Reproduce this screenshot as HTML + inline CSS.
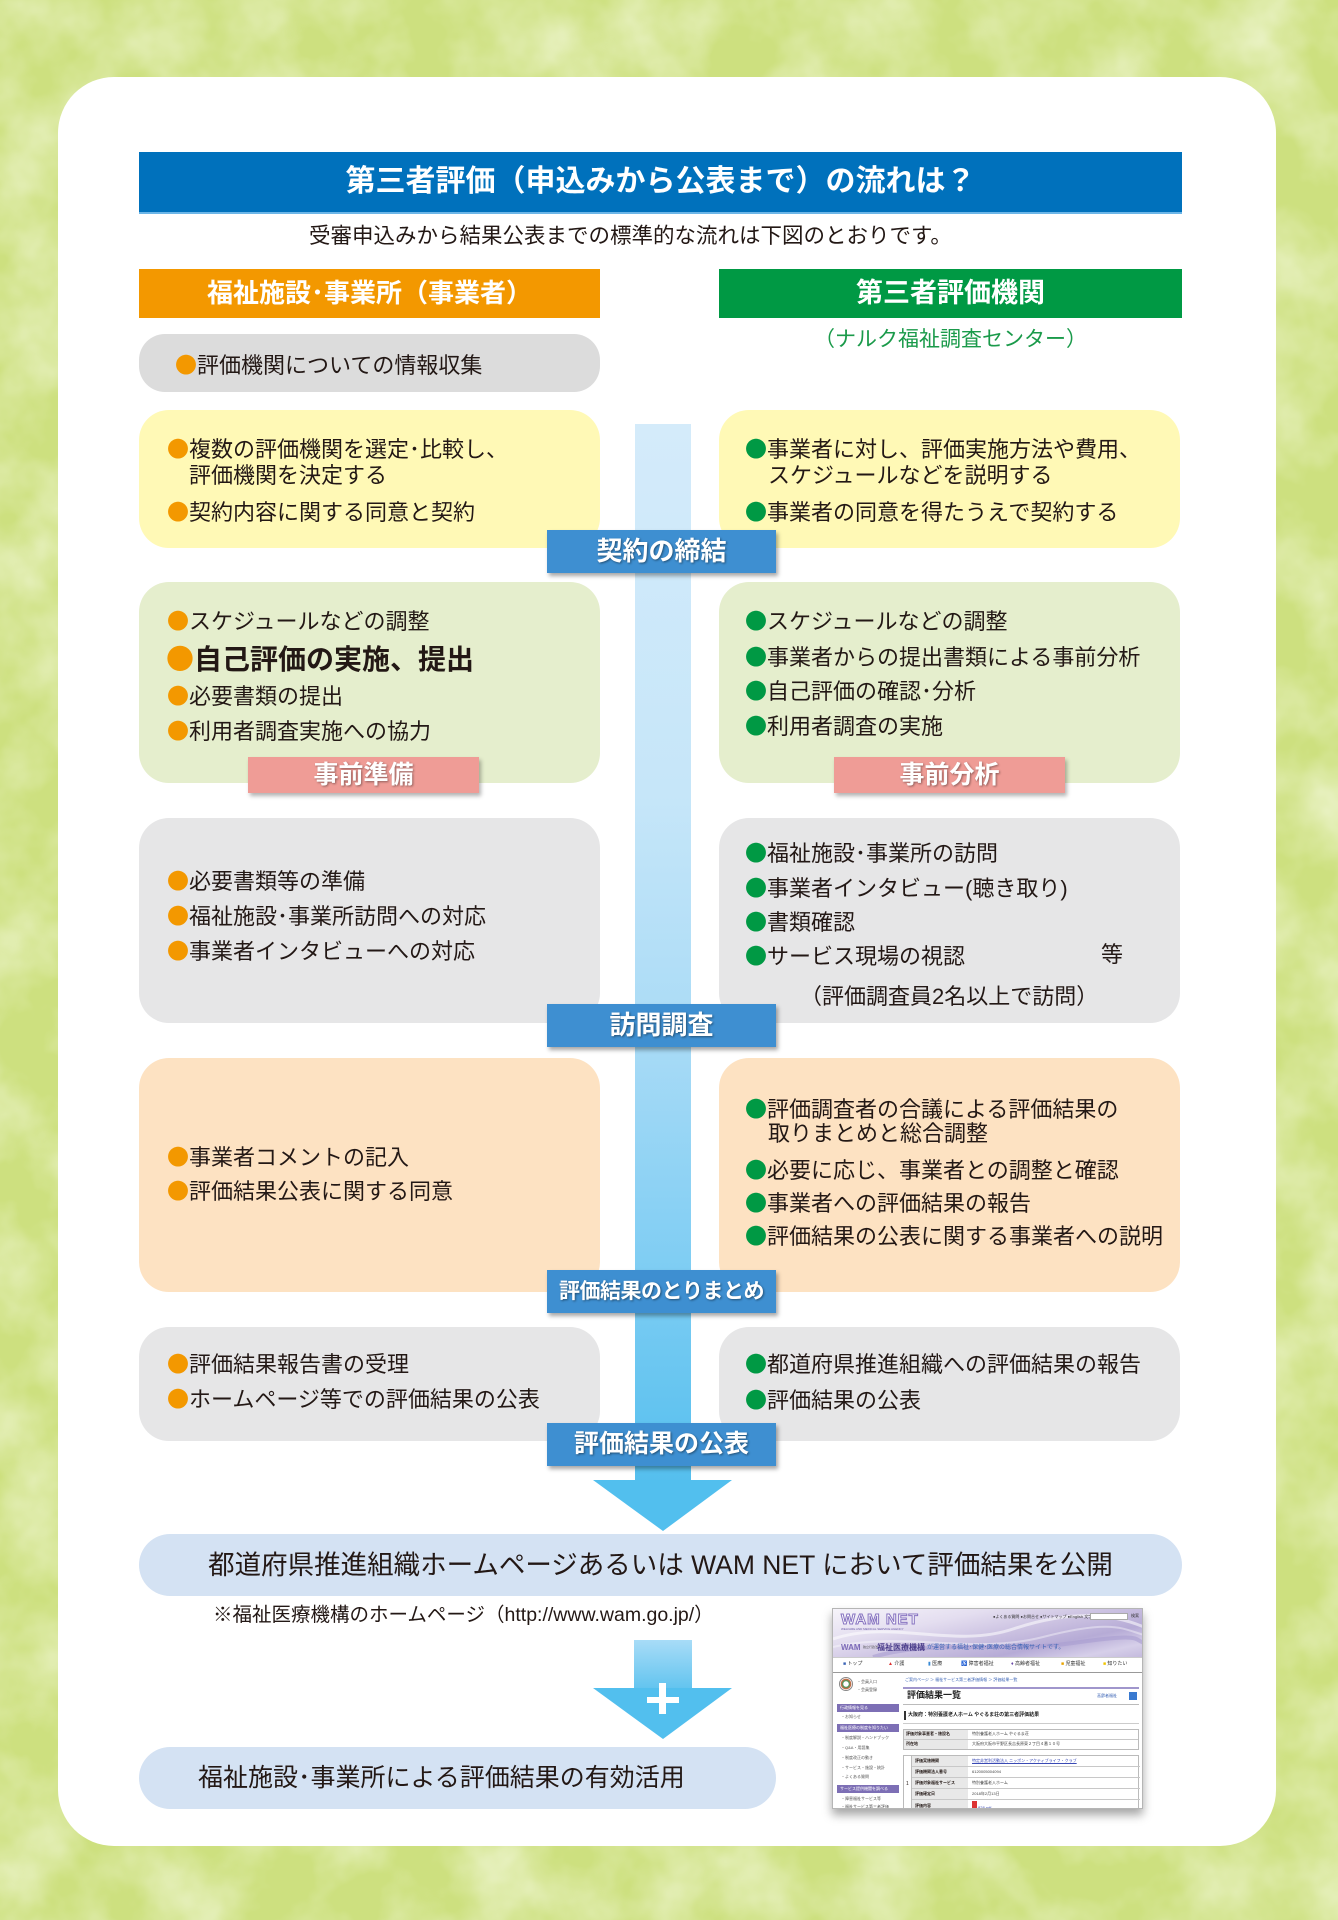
<!DOCTYPE html>
<html><head><meta charset="utf-8">
<style>
*{margin:0;padding:0;box-sizing:border-box}
html,body{width:1338px;height:1920px;overflow:hidden}
body{position:relative;background:#cfe083;font-family:"Liberation Sans","Noto Sans CJK JP",sans-serif;color:#231815}
.a{position:absolute}
.box{position:absolute;border-radius:30px}
.t{position:absolute;font-size:22px;line-height:30px;white-space:nowrap;color:#231815}
.o{color:#f39800;font-family:"Noto Sans CJK JP",sans-serif}.g{color:#009944;font-family:"Noto Sans CJK JP",sans-serif}
.lab{position:absolute;left:547px;width:229px;height:43px;background:#3e8fd1;color:#fff;font-weight:700;text-align:center;line-height:43px;box-shadow:2px 3px 4px rgba(0,0,0,.35);text-shadow:1px 1px 2px rgba(0,0,0,.45);white-space:nowrap}
.pink{position:absolute;width:231px;height:36px;background:#ef9c96;color:#fff;font-weight:700;font-size:25px;text-align:center;line-height:36px;box-shadow:2px 3px 4px rgba(0,0,0,.3);text-shadow:1px 1px 2px rgba(0,0,0,.4)}
.w{position:absolute;white-space:nowrap;line-height:1}
.sb{position:absolute;left:4px;width:62px;height:8px;background:#7d6fb5;color:#fff;font-size:4px;line-height:8px;padding-left:3px;white-space:nowrap;overflow:hidden}
.si{position:absolute;left:8px;font-size:4px;color:#555;white-space:nowrap}
.tr{position:absolute;left:0;width:100%;border-bottom:1px solid #c8c8c8}
</style></head>
<body>
<svg class="a" style="left:0;top:0" width="1338" height="1920">
<defs><filter id="n" x="0" y="0" width="100%" height="100%"><feTurbulence type="fractalNoise" baseFrequency="0.013" numOctaves="4" seed="7"/><feColorMatrix type="matrix" values="0 0 0 0 0.91  0 0 0 0 0.95  0 0 0 0 0.74  1.2 0 0 0 -0.42"/></filter></defs>
<rect width="1338" height="1920" fill="#cde07f"/>
<rect width="1338" height="1920" filter="url(#n)"/>
</svg>

<!-- card -->
<div class="a" style="left:58px;top:77px;width:1218px;height:1769px;background:#fff;border-radius:56px"></div>

<!-- title -->
<div class="a" style="left:139px;top:152px;width:1043px;height:62px;background:#0071bc;border-bottom:2px solid #6cb6e8;color:#fff;font-size:30px;font-weight:700;text-align:center;line-height:60px">第三者評価（申込みから公表まで）の流れは？</div>
<div class="t" style="left:309px;top:221px;font-size:21.5px">受審申込みから結果公表までの標準的な流れは下図のとおりです。</div>

<!-- headers -->
<div class="a" style="left:139px;top:269px;width:461px;height:49px;background:#f39800;color:#fff;font-size:26px;font-weight:700;text-align:center;line-height:49px">福祉施設･事業所（事業者）</div>
<div class="a" style="left:719px;top:269px;width:463px;height:49px;background:#009944;color:#fff;font-size:27px;font-weight:700;text-align:center;line-height:49px">第三者評価機関</div>
<div class="a" style="left:719px;top:325px;width:463px;text-align:center;font-size:21px;line-height:30px;color:#1a9a4a">（ナルク福祉調査センター）</div>

<!-- gray box 1 -->
<div class="box" style="left:139px;top:334px;width:461px;height:58px;background:#dcdcdc;border-radius:26px"></div>
<div class="t" style="left:175px;top:349px"><span class="o">●</span>評価機関についての情報収集</div>

<!-- shaft -->
<div class="a" style="left:635px;top:424px;width:56px;height:1058px;background:linear-gradient(#d4ebfa 0%,#c6e6f9 35%,#a9dbf6 58%,#7ecdf3 80%,#55bfee 100%)"></div>
<svg class="a" style="left:0;top:0" width="1338" height="1920">
<polygon points="593,1480 732,1480 663,1531" fill="#52bfee"/>
</svg>

<!-- yellow row -->
<div class="box" style="left:139px;top:410px;width:461px;height:138px;background:#fff9b6"></div>
<div class="box" style="left:719px;top:410px;width:461px;height:138px;background:#fff9b6"></div>
<div class="t" style="left:167px;top:433px"><span class="o">●</span>複数の評価機関を選定･比較し、</div>
<div class="t" style="left:189px;top:461px">評価機関を決定する</div>
<div class="t" style="left:167px;top:496px"><span class="o">●</span>契約内容に関する同意と契約</div>
<div class="t" style="left:745px;top:433px"><span class="g">●</span>事業者に対し、評価実施方法や費用、</div>
<div class="t" style="left:768px;top:461px">スケジュールなどを説明する</div>
<div class="t" style="left:745px;top:496px"><span class="g">●</span>事業者の同意を得たうえで契約する</div>
<div class="lab" style="top:530px;font-size:26px">契約の締結</div>

<!-- green row -->
<div class="box" style="left:139px;top:582px;width:461px;height:201px;background:#e5eecd"></div>
<div class="box" style="left:719px;top:582px;width:461px;height:201px;background:#e5eecd"></div>
<div class="t" style="left:167px;top:605px"><span class="o">●</span>スケジュールなどの調整</div>
<div class="t" style="left:166px;top:640px;font-size:28px;line-height:36px;font-weight:700"><span class="o">●</span>自己評価の実施、提出</div>
<div class="t" style="left:167px;top:680px"><span class="o">●</span>必要書類の提出</div>
<div class="t" style="left:167px;top:715px"><span class="o">●</span>利用者調査実施への協力</div>
<div class="t" style="left:745px;top:605px"><span class="g">●</span>スケジュールなどの調整</div>
<div class="t" style="left:745px;top:641px"><span class="g">●</span>事業者からの提出書類による事前分析</div>
<div class="t" style="left:745px;top:675px"><span class="g">●</span>自己評価の確認･分析</div>
<div class="t" style="left:745px;top:710px"><span class="g">●</span>利用者調査の実施</div>
<div class="pink" style="left:248px;top:757px">事前準備</div>
<div class="pink" style="left:834px;top:757px">事前分析</div>

<!-- gray row 2 -->
<div class="box" style="left:139px;top:818px;width:461px;height:205px;background:#e6e6e7"></div>
<div class="box" style="left:719px;top:818px;width:461px;height:205px;background:#e6e6e7"></div>
<div class="t" style="left:167px;top:865px"><span class="o">●</span>必要書類等の準備</div>
<div class="t" style="left:167px;top:900px"><span class="o">●</span>福祉施設･事業所訪問への対応</div>
<div class="t" style="left:167px;top:935px"><span class="o">●</span>事業者インタビューへの対応</div>
<div class="t" style="left:745px;top:837px"><span class="g">●</span>福祉施設･事業所の訪問</div>
<div class="t" style="left:745px;top:872px"><span class="g">●</span>事業者インタビュー(聴き取り)</div>
<div class="t" style="left:745px;top:906px"><span class="g">●</span>書類確認</div>
<div class="t" style="left:745px;top:940px"><span class="g">●</span>サービス現場の視認</div>
<div class="t" style="left:1101px;top:940px">等</div>
<div class="t" style="left:800px;top:982px">（評価調査員2名以上で訪問）</div>
<div class="lab" style="top:1004px;font-size:26px">訪問調査</div>

<!-- peach row -->
<div class="box" style="left:139px;top:1058px;width:461px;height:234px;background:#fde2c2"></div>
<div class="box" style="left:719px;top:1058px;width:461px;height:234px;background:#fde2c2"></div>
<div class="t" style="left:167px;top:1141px"><span class="o">●</span>事業者コメントの記入</div>
<div class="t" style="left:167px;top:1175px"><span class="o">●</span>評価結果公表に関する同意</div>
<div class="t" style="left:745px;top:1093px"><span class="g">●</span>評価調査者の合議による評価結果の</div>
<div class="t" style="left:768px;top:1119px">取りまとめと総合調整</div>
<div class="t" style="left:745px;top:1154px"><span class="g">●</span>必要に応じ、事業者との調整と確認</div>
<div class="t" style="left:745px;top:1187px"><span class="g">●</span>事業者への評価結果の報告</div>
<div class="t" style="left:745px;top:1220px"><span class="g">●</span>評価結果の公表に関する事業者への説明</div>
<div class="lab" style="top:1270px;font-size:21px;letter-spacing:-0.5px">評価結果のとりまとめ</div>

<!-- gray row 3 -->
<div class="box" style="left:139px;top:1327px;width:461px;height:114px;background:#e6e6e7"></div>
<div class="box" style="left:719px;top:1327px;width:461px;height:114px;background:#e6e6e7"></div>
<div class="t" style="left:167px;top:1348px"><span class="o">●</span>評価結果報告書の受理</div>
<div class="t" style="left:167px;top:1383px"><span class="o">●</span>ホームページ等での評価結果の公表</div>
<div class="t" style="left:745px;top:1348px"><span class="g">●</span>都道府県推進組織への評価結果の報告</div>
<div class="t" style="left:745px;top:1384px"><span class="g">●</span>評価結果の公表</div>
<div class="lab" style="top:1423px;font-size:25px">評価結果の公表</div>

<!-- bottom pills -->
<div class="a" style="left:139px;top:1534px;width:1043px;height:62px;background:#d4e2f3;border-radius:31px;text-align:center;font-size:26.5px;line-height:62px;color:#231815;white-space:nowrap">都道府県推進組織ホームページあるいは WAM NET において評価結果を公開</div>
<div class="t" style="left:213px;top:1601px;font-size:19.5px;line-height:28px">※福祉医療機構のホームページ（http://www.wam.go.jp/）</div>

<div class="a" style="left:634px;top:1640px;width:58px;height:49px;background:linear-gradient(#a8dcf7,#62c4ef)"></div>
<svg class="a" style="left:0;top:0" width="1338" height="1920">
<polygon points="593,1688 732,1688 663,1739" fill="#52bfee"/>
<rect x="647" y="1697" width="32" height="6" fill="#fff"/>
<rect x="659" y="1683" width="7" height="31" fill="#fff"/>
</svg>

<div class="a" style="left:139px;top:1747px;width:637px;height:62px;background:#d4e2f3;border-radius:31px;font-size:25px;line-height:62px;padding-left:59px;color:#231815;white-space:nowrap">福祉施設･事業所による評価結果の有効活用</div>

<!-- WAM NET screenshot mock -->
<div class="a" style="left:832px;top:1608px;width:311px;height:201px;background:#fff;border:1px solid #b5b5b5;box-shadow:0 6px 9px rgba(0,0,0,.35);overflow:hidden;font-family:'Liberation Sans','Noto Sans CJK JP',sans-serif">
  <div class="a" style="left:0;top:0;width:311px;height:48px;background:linear-gradient(168deg,#f6f4fa 0%,#e4def0 30%,#c9bfe0 55%,#b6abd6 72%,#d6cfe9 88%,#c4badd 100%)"></div>
  <svg class="a" style="left:0;top:0" width="311" height="48">
    <path d="M0,30 C60,10 120,40 180,20 S280,5 311,18" stroke="#fff" stroke-opacity=".55" stroke-width="3" fill="none"/>
    <path d="M0,38 C70,22 140,46 210,28 S290,20 311,26" stroke="#fff" stroke-opacity=".4" stroke-width="2" fill="none"/>
    <path d="M40,48 C100,30 170,44 240,34 S300,30 311,34" stroke="#a99dd0" stroke-opacity=".6" stroke-width="4" fill="none"/>
  </svg>
  <div class="w" style="left:8px;top:3px;font-size:15px;font-weight:700;color:#fff;-webkit-text-stroke:1px #8672c0;letter-spacing:1px">WAM NET</div>
  <div class="w" style="left:8px;top:19px;font-size:3px;color:#6a5aa8">WELFARE AND MEDICAL SERVICE AGENCY</div>
  <div class="w" style="left:160px;top:6px;font-size:4px;color:#333">●よくある質問 ●お問合せ ●サイトマップ ●English 文字サイズ</div>
  <div class="a" style="left:257px;top:4px;width:38px;height:7px;background:#fff;border:1px solid #aaa"></div>
  <div class="w" style="left:298px;top:5px;font-size:4px;color:#333">検索</div>
  <div class="w" style="left:8px;top:35px;font-size:8px;font-weight:700;color:#7d6bb8">WAM</div>
  <div class="w" style="left:30px;top:37px;font-size:3px;color:#555">独立行政法人</div>
  <div class="w" style="left:44px;top:35px;font-size:8px;font-weight:700;color:#4a3c8a">福祉医療機構</div>
  <div class="w" style="left:94px;top:36px;font-size:6px;color:#3a63b5">が運営する福祉･保健･医療の総合情報サイトです。</div>
  <div class="a" style="left:0;top:48px;width:311px;height:16px;background:#fff;border-bottom:1px solid #999;border-top:1px solid #ccc"></div>
  <div class="w" style="left:10px;top:53px;font-size:5px;color:#333"><span style="color:#3a63b5">■</span> トップ</div>
  <div class="w" style="left:55px;top:53px;font-size:5px;color:#333"><span style="color:#d33">▲</span> 介護</div>
  <div class="w" style="left:95px;top:53px;font-size:5px;color:#333"><span style="color:#3a8ad5">▮</span> 医療</div>
  <div class="w" style="left:128px;top:53px;font-size:5px;color:#333"><span style="color:#2a9a5a">♿</span> 障害者福祉</div>
  <div class="w" style="left:178px;top:53px;font-size:5px;color:#333"><span style="color:#6a4aa8">♦</span> 高齢者福祉</div>
  <div class="w" style="left:228px;top:53px;font-size:5px;color:#333"><span style="color:#e9a400">■</span> 児童福祉</div>
  <div class="w" style="left:270px;top:53px;font-size:5px;color:#333"><span style="color:#f0c400">■</span> 知りたい</div>
  <!-- sidebar -->
  <div class="a" style="left:6px;top:68px;width:14px;height:14px;border-radius:50%;background:radial-gradient(#fff 30%,#3a9a5a 35%,#d64 60%,#fff 65%);border:1px solid #888"></div>
  <div class="si" style="left:24px;top:70px">・会員入口</div>
  <div class="si" style="left:24px;top:78px">・会員登録</div>
  <div class="sb" style="top:95px">行政情報を見る</div>
  <div class="si" style="top:105px">・お知らせ</div>
  <div class="sb" style="top:115px">福祉医療の制度を知りたい</div>
  <div class="si" style="top:126px">・制度解説・ハンドブック</div>
  <div class="si" style="top:136px">・Q&amp;A・用語集</div>
  <div class="si" style="top:146px">・制度改正の動き</div>
  <div class="si" style="top:156px">・サービス・施設・統計</div>
  <div class="si" style="top:165px">・よくある質問</div>
  <div class="sb" style="top:176px">サービス提供機関を調べる</div>
  <div class="si" style="top:187px">・障害福祉サービス等</div>
  <div class="si" style="top:195px">・福祉サービス第三者評価</div>
  <!-- main -->
  <div class="w" style="left:72px;top:69px;font-size:4px;color:#3a63b5">ご案内ページ ＞ 福祉サービス第三者評価情報 ＞ 評価結果一覧</div>
  <div class="a" style="left:70px;top:78px;width:236px;height:2px;background:#a096cc"></div>
  <div class="w" style="left:74px;top:82px;font-size:9px;font-weight:700;color:#222">評価結果一覧</div>
  <div class="w" style="left:264px;top:85px;font-size:4px;color:#3a63b5">高齢者福祉</div>
  <div class="a" style="left:296px;top:83px;width:8px;height:8px;background:#3a7ad0"></div>
  <div class="a" style="left:70px;top:95px;width:236px;height:1px;background:#bbb"></div>
  <div class="a" style="left:71px;top:102px;width:2px;height:9px;background:#333"></div>
  <div class="w" style="left:75px;top:104px;font-size:5px;font-weight:700;color:#222">大阪府：特別養護老人ホーム やぐるま荘の第三者評価結果</div>
  <div class="a" style="left:70px;top:114px;width:236px;height:1px;background:#ccc"></div>
  <div class="a" style="left:70px;top:120px;width:236px;height:21px;border:1px solid #bbb">
    <div class="a" style="left:0;top:0;width:64px;height:19px;background:#e8e8e8"></div>
    <div class="tr" style="top:9px"></div>
    <div class="w" style="left:2px;top:2px;font-size:4px;font-weight:700">評価対象事業者・施設名</div>
    <div class="w" style="left:2px;top:12px;font-size:4px;font-weight:700">所在地</div>
    <div class="w" style="left:68px;top:2px;font-size:4px;color:#444">特別養護老人ホーム やぐるま荘</div>
    <div class="w" style="left:68px;top:12px;font-size:4px;color:#444">大阪府大阪市平野区長吉長原東２丁目４番１０号</div>
  </div>
  <div class="a" style="left:70px;top:146px;width:236px;height:58px;border:1px solid #bbb">
    <div class="a" style="left:8px;top:0;width:56px;height:58px;background:#e8e8e8"></div>
    <div class="a" style="left:7px;top:0;width:1px;height:58px;background:#bbb"></div>
    <div class="tr" style="left:8px;width:228px;top:10px"></div>
    <div class="tr" style="left:8px;width:228px;top:21px"></div>
    <div class="tr" style="left:8px;width:228px;top:32px"></div>
    <div class="tr" style="left:8px;width:228px;top:43px"></div>
    <div class="w" style="left:2px;top:26px;font-size:5px">1</div>
    <div class="w" style="left:11px;top:3px;font-size:4px;font-weight:700">評価実施機関</div>
    <div class="w" style="left:11px;top:14px;font-size:4px;font-weight:700">評価機関法人番号</div>
    <div class="w" style="left:11px;top:25px;font-size:4px;font-weight:700">評価対象福祉サービス</div>
    <div class="w" style="left:11px;top:36px;font-size:4px;font-weight:700">評価確定日</div>
    <div class="w" style="left:11px;top:48px;font-size:4px;font-weight:700">評価内容</div>
    <div class="w" style="left:68px;top:3px;font-size:4px;color:#3a4ab5;text-decoration:underline">特定非営利活動法人 ニッポン・アクティブライフ・クラブ</div>
    <div class="w" style="left:68px;top:14px;font-size:4px;color:#444">6120005004094</div>
    <div class="w" style="left:68px;top:25px;font-size:4px;color:#444">特別養護老人ホーム</div>
    <div class="w" style="left:68px;top:36px;font-size:4px;color:#444">2018年2月13日</div>
    <div class="a" style="left:68px;top:45px;width:5px;height:7px;background:#d33"></div>
    <div class="w" style="left:74px;top:50px;font-size:4px;color:#3a4ab5;text-decoration:underline">828.pdf</div>
  </div>
</div>

</body></html>
